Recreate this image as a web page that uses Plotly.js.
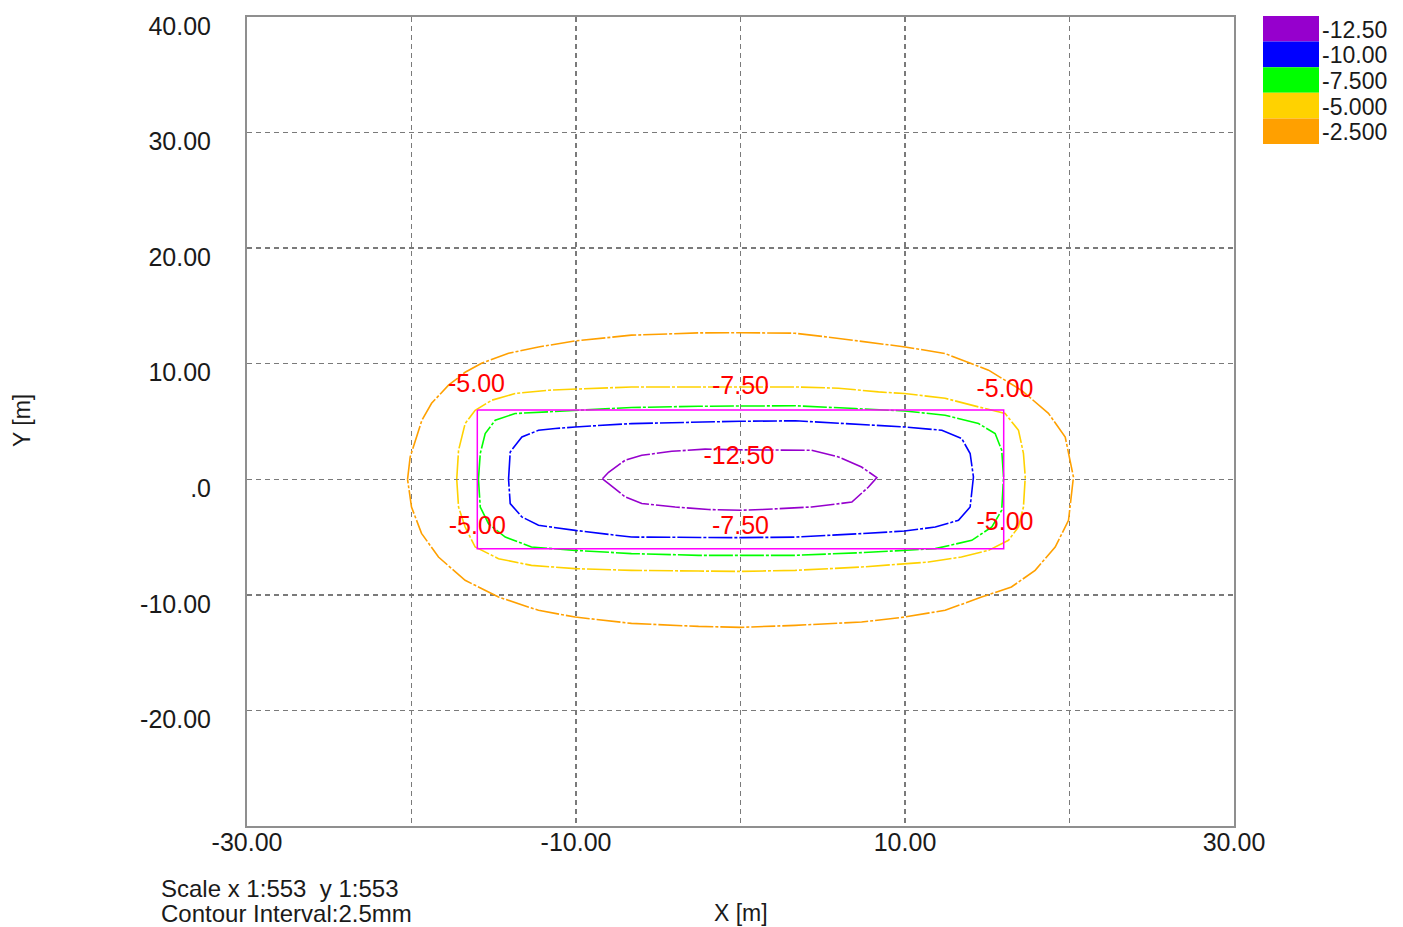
<!DOCTYPE html>
<html>
<head>
<meta charset="utf-8">
<script src="https://cdn.plot.ly/plotly-3.0.1.min.js"></script>
<style>
  html, body { margin: 0; padding: 0; background: #ffffff; }
  #chart { width: 1403px; height: 927px; }
</style>
</head>
<body>
<div id="chart"></div>
<script>
// Contour levels (mm) and their colours, deepest first
const levelNames = ['-12.50', '-10.00', '-7.500', '-5.000', '-2.500'];
const levelColors = ['#9600CD', '#0000FF', '#00FF00', '#FFD200', '#FFA000'];

// -2.5 mm contour
const c25X = [-20.24, -20.08, -19.37, -18.78, -17.75, -16.74, -15.74, -14.10, -12.28, -10.05, -6.63, -2.55, 0.00, 3.28, 5.35, 7.78, 10.01, 12.44, 15.08, 17.08, 18.72, 19.74, 20.24, 19.94, 19.13, 17.91, 16.47, 14.65, 12.44, 9.97, 7.36, 3.33, 0.00, -2.55, -6.63, -10.05, -12.28, -14.71, -16.74, -18.36, -19.39, -20.00, -20.24];
const c25Y = [0.00, 1.93, 5.10, 6.58, 8.14, 9.26, 10.04, 10.90, 11.45, 11.97, 12.47, 12.67, 12.68, 12.64, 12.30, 11.86, 11.45, 10.88, 9.44, 7.70, 5.71, 3.66, 0.20, -3.55, -5.86, -7.88, -9.32, -10.19, -11.34, -11.92, -12.35, -12.64, -12.81, -12.73, -12.47, -11.92, -11.34, -10.19, -8.74, -6.73, -4.68, -2.40, 0.00];

// -5.0 mm contour
const c50X = [-17.25, -17.14, -16.74, -16.13, -15.12, -13.70, -11.67, -10.05, -6.63, -2.55, 0.00, 3.34, 5.96, 8.39, 9.97, 12.44, 14.47, 16.09, 16.90, 17.20, 17.31, 17.20, 16.90, 16.29, 15.08, 13.43, 11.43, 9.97, 7.36, 3.33, 0.00, -2.55, -6.63, -10.05, -12.71, -14.71, -16.13, -16.74, -17.14, -17.25];
const c50Y = [0.00, 2.51, 4.82, 5.97, 6.84, 7.42, 7.71, 7.79, 7.99, 7.99, 8.01, 7.99, 7.88, 7.56, 7.42, 7.01, 6.26, 5.69, 4.24, 2.25, 0.20, -2.40, -4.13, -5.28, -6.15, -6.73, -7.16, -7.30, -7.59, -7.88, -7.97, -7.94, -7.88, -7.73, -7.45, -6.87, -5.86, -4.13, -2.40, 0.00];

// -7.5 mm contour
const c75X = [-15.93, -15.82, -15.52, -14.91, -13.70, -11.67, -10.05, -6.63, -2.55, 0.00, 3.34, 6.97, 9.97, 12.44, 14.47, 15.48, 15.88, 15.99, 15.88, 15.28, 14.06, 11.84, 9.97, 7.36, 3.33, 0.00, -2.55, -6.63, -10.05, -12.71, -14.30, -15.32, -15.82, -15.93];
const c75Y = [0.00, 2.23, 3.96, 5.11, 5.69, 5.83, 5.97, 6.21, 6.32, 6.36, 6.36, 6.12, 5.91, 5.54, 4.82, 3.96, 2.51, 0.20, -2.68, -4.13, -5.28, -6.00, -6.15, -6.35, -6.58, -6.58, -6.58, -6.43, -6.15, -5.86, -5.00, -3.84, -2.40, 0.00];

// -10.0 mm contour
const c100X = [-14.10, -14.00, -13.29, -12.28, -11.26, -10.05, -6.63, -2.55, 0.00, 3.34, 7.36, 9.97, 12.24, 13.45, 13.96, 14.16, 13.96, 13.25, 11.84, 9.97, 7.36, 3.33, 0.00, -2.55, -6.63, -10.05, -12.28, -13.29, -14.00, -14.10];
const c100Y = [0.00, 2.36, 3.66, 4.24, 4.39, 4.53, 4.82, 4.96, 5.02, 5.06, 4.76, 4.53, 4.24, 3.52, 2.23, 0.20, -2.40, -3.55, -4.13, -4.48, -4.70, -5.00, -5.05, -5.05, -5.00, -4.42, -3.98, -3.26, -2.10, 0.00];

// -12.5 mm contour
const c125X = [-8.39, -8.02, -7.01, -6.00, -4.18, -2.15, 0.00, 4.32, 5.96, 7.36, 8.29, 7.78, 6.77, 4.32, 1.28, 0.00, -1.95, -3.97, -6.00, -7.01, -8.02, -8.39];
const c125Y = [0.04, 0.61, 1.65, 2.08, 2.42, 2.61, 2.55, 2.51, 1.93, 1.06, 0.15, -0.67, -1.97, -2.40, -2.62, -2.68, -2.62, -2.40, -2.10, -1.53, -0.37, 0.04];

// Loaded area outline
const areaX = [-16, 16, 16, -16, -16];
const areaY = [6, 6, -6, -6, 6];

// Contour value labels
const labelX = [-16.05, 0.0, 16.08, -0.1, -16.0, 0.0, 16.08];
const labelY = [8.1, 7.95, 7.65, 1.86, -4.2, -4.2, -3.85];
const labelText = ['-5.00', '-7.50', '-5.00', '-12.50', '-5.00', '-7.50', '-5.00'];

// Axis ticks
const xTickVals = [-30, -20, -10, 0, 10, 20, 30];
const xTickText = ['-30.00', '', '-10.00', '', '10.00', '', '30.00'];
const yTickVals = [-30, -20, -10, 0, 10, 20, 30, 40];
const yTickText = ['', '-20.00', '-10.00', '.0', '10.00', '20.00', '30.00', '40.00'];

const FONT = 'Liberation Sans, Arial, sans-serif';
const TEXT = '#1a1a1a';
const LINE_DASH = '24px,2px,3px,2px';

// plot area in page pixels
const W = 1403, H = 927;
const PL = 247, PR = 1234, PT = 17, PB = 826;
const px2x = p => (p - PL) / (PR - PL);
const px2y = p => (PB - p) / (PB - PT);

const contours = [
  { x: c25X, y: c25Y, color: levelColors[4] },
  { x: c50X, y: c50Y, color: levelColors[3] },
  { x: c75X, y: c75Y, color: levelColors[2] },
  { x: c100X, y: c100Y, color: levelColors[1] },
  { x: c125X, y: c125Y, color: levelColors[0] }
];

const traces = contours.map(c => ({
  type: 'scatter', mode: 'lines', x: c.x, y: c.y,
  line: { color: c.color, width: 1.6, dash: LINE_DASH, shape: 'linear' },
  hoverinfo: 'skip'
}));

traces.push({
  type: 'scatter', mode: 'lines', x: areaX, y: areaY,
  line: { color: '#FF00FF', width: 1.5 }, hoverinfo: 'skip'
});

traces.push({
  type: 'scatter', mode: 'text', x: labelX, y: labelY, text: labelText,
  textposition: 'middle center',
  textfont: { family: FONT, size: 25, color: '#FF0000' }, hoverinfo: 'skip'
});

// legend swatches
const shapes = [];
const annotations = [];
const boxTop = 16, boxH = 25.6;
levelNames.forEach((name, i) => {
  const y0 = boxTop + i * boxH;
  shapes.push({
    type: 'rect', xref: 'paper', yref: 'paper',
    x0: px2x(1263), x1: px2x(1319), y0: px2y(y0 + boxH), y1: px2y(y0),
    fillcolor: levelColors[i], line: { width: 0 }
  });
  annotations.push({
    xref: 'paper', yref: 'paper', x: px2x(1320), y: px2y(y0 + boxH / 2 + 1),
    xanchor: 'left', yanchor: 'middle', showarrow: false, text: name,
    font: { family: FONT, size: 23, color: TEXT }
  });
});

annotations.push({
  xref: 'paper', yref: 'paper', x: px2x(22), y: px2y(421),
  xanchor: 'center', yanchor: 'middle', showarrow: false, text: 'Y [m]',
  textangle: -90, font: { family: FONT, size: 23, color: TEXT }
});
annotations.push({
  xref: 'paper', yref: 'paper', x: px2x(741), y: px2y(913),
  xanchor: 'center', yanchor: 'middle', showarrow: false, text: 'X [m]',
  font: { family: FONT, size: 23, color: TEXT }
});
annotations.push({
  xref: 'paper', yref: 'paper', x: px2x(159), y: px2y(889),
  xanchor: 'left', yanchor: 'middle', showarrow: false,
  text: 'Scale x 1:553  y 1:553',
  font: { family: FONT, size: 24, color: TEXT }
});
annotations.push({
  xref: 'paper', yref: 'paper', x: px2x(159), y: px2y(913),
  xanchor: 'left', yanchor: 'middle', showarrow: false,
  text: 'Contour Interval:2.5mm',
  font: { family: FONT, size: 24, color: TEXT }
});

const axisCommon = {
  showgrid: true, gridcolor: '#7a7a7a', gridwidth: 1.5, griddash: '5px,4px',
  zeroline: false, showline: true, mirror: true, linecolor: '#8f8f8f', linewidth: 2,
  ticks: '', ticklen: 0, tickmode: 'array', fixedrange: true,
  tickfont: { family: FONT, size: 25, color: TEXT }
};

const layout = {
  width: W, height: H,
  margin: { l: PL, r: W - PR, t: PT, b: H - PB, pad: 0 },
  paper_bgcolor: '#ffffff', plot_bgcolor: '#ffffff',
  showlegend: false, hovermode: false,
  xaxis: Object.assign({}, axisCommon, {
    range: [-30, 30], tickvals: xTickVals, ticktext: xTickText,
    ticklabelstandoff: -7
  }),
  yaxis: Object.assign({}, axisCommon, {
    range: [-30, 40], tickvals: yTickVals, ticktext: yTickText,
    ticklabelstandoff: 29, ticklabelshift: 9
  }),
  shapes: shapes,
  annotations: annotations
};

Plotly.newPlot('chart', traces, layout, { displayModeBar: false, staticPlot: true });
</script>
</body>
</html>
